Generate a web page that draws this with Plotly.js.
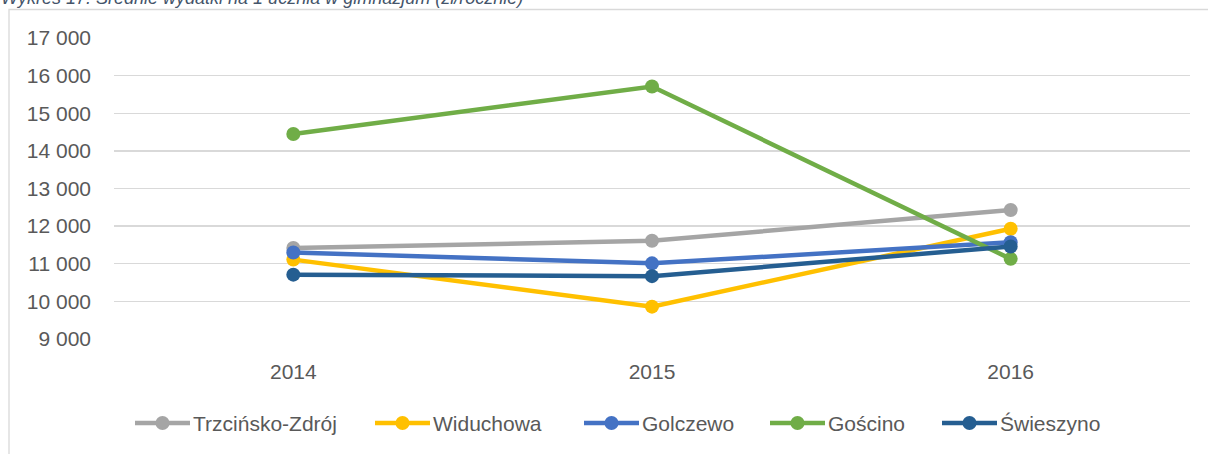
<!DOCTYPE html>
<html>
<head>
<meta charset="utf-8">
<script src="https://cdn.plot.ly/plotly-3.0.1.min.js"></script>
<style>html,body{margin:0;padding:0;background:#fff;}#chart{width:1208px;height:454px;}</style>
</head>
<body>
<div id="chart"></div>
<script>
const years = ['2014', '2015', '2016'];
const seriesNames = ['Trzcińsko-Zdrój', 'Widuchowa', 'Golczewo', 'Gościno', 'Świeszyno'];
const trzcinsko = [11420, 11610, 12430];
const widuchowa = [11110, 9860, 11930];
const golczewo = [11300, 11010, 11570];
const goscino = [14450, 15710, 11130];
const swieszyno = [10710, 10670, 11460];
const yTicks = [9000, 10000, 11000, 12000, 13000, 14000, 15000, 16000, 17000];
const titleText = 'Wykres 17. Średnie wydatki na 1 ucznia w gimnazjum (zł/rocznie)';

const values = [trzcinsko, widuchowa, golczewo, goscino, swieszyno];
const colors = ['#A5A5A5', '#FFC000', '#4472C4', '#70AD47', '#255E91'];

// plot area in pixels (layout only)
const PL = 114, PR = 1190, PT = 38, PB = 339;
const px = v => (v - PL) / (PR - PL);
const py = v => (PB - v) / (PB - PT);

// custom legend layout (pixel positions of each entry's line start)
const legendStarts = [135, 375, 584, 770, 942];
const legendLineLen = 55;
const legendY = 423;

const traces = seriesNames.map((name, i) => ({
  type: 'scatter',
  mode: 'lines+markers',
  name: name,
  x: years,
  y: values[i],
  line: {color: colors[i], width: 4.5},
  marker: {color: colors[i], size: 14},
  cliponaxis: false,
  showlegend: false
}));

const font = "'Liberation Sans', Arial, sans-serif";

const shapes = [{
  type: 'rect',
  xref: 'paper', yref: 'paper',
  x0: px(9), x1: px(1215),
  y0: py(470), y1: py(9.5),
  line: {color: '#D9D9D9', width: 1.3},
  fillcolor: 'rgba(0,0,0,0)',
  layer: 'below'
}];
const annotations = [{
  text: titleText,
  xref: 'paper', yref: 'paper',
  x: px(-1), xanchor: 'left',
  y: py(-3), yanchor: 'middle',
  showarrow: false,
  font: {family: font, size: 18, color: '#44546A', style: 'italic'}
}];

seriesNames.forEach((name, i) => {
  const x0 = legendStarts[i], x1 = x0 + legendLineLen, xc = (x0 + x1) / 2;
  shapes.push({
    type: 'line', xref: 'paper', yref: 'paper',
    x0: px(x0), x1: px(x1), y0: py(legendY), y1: py(legendY),
    line: {color: colors[i], width: 4.5}
  });
  shapes.push({
    type: 'circle', xref: 'paper', yref: 'paper',
    x0: px(xc - 7), x1: px(xc + 7), y0: py(legendY + 7), y1: py(legendY - 7),
    line: {width: 0}, fillcolor: colors[i]
  });
  annotations.push({
    text: name,
    xref: 'paper', yref: 'paper',
    x: px(x1 + 1), xanchor: 'left',
    y: py(legendY), yanchor: 'middle',
    showarrow: false,
    font: {family: font, size: 21, color: '#595959'}
  });
});

const layout = {
  width: 1208,
  height: 454,
  margin: {l: PL, r: 1208 - PR, t: PT, b: 454 - PB},
  paper_bgcolor: '#ffffff',
  plot_bgcolor: '#ffffff',
  separators: ', ',
  font: {family: font, size: 21, color: '#595959'},
  showlegend: false,
  xaxis: {
    type: 'category',
    range: [-0.5, 2.5],
    showgrid: false,
    zeroline: false,
    showline: false,
    ticks: '',
    ticklabelstandoff: 18,
    tickfont: {size: 21, color: '#595959'},
    fixedrange: true
  },
  yaxis: {
    range: [9000, 17000],
    tickvals: yTicks,
    tickformat: ',d',
    showgrid: true,
    gridcolor: '#D9D9D9',
    gridwidth: 1.3,
    zeroline: false,
    showline: false,
    ticks: '',
    ticklabelstandoff: 22,
    tickfont: {size: 21, color: '#595959'},
    fixedrange: true
  },
  shapes: shapes,
  annotations: annotations
};

Plotly.newPlot('chart', traces, layout, {displayModeBar: false, staticPlot: true});
</script>
</body>
</html>
